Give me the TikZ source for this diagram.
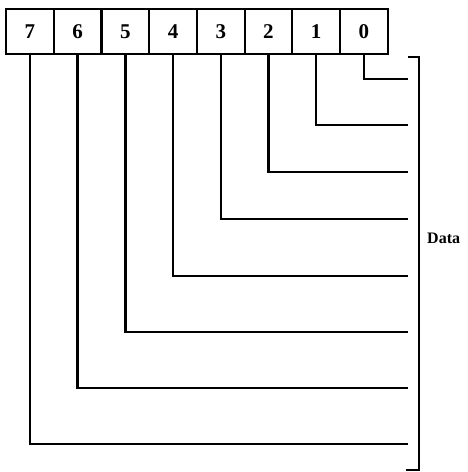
\documentclass[tikz,border=0pt]{standalone}
\usepackage{fontspec}
\setmainfont{Liberation Serif}
\begin{document}
\begin{tikzpicture}[x=1pt,y=-1pt,
  bitbox/.style={draw,line width=2.2pt,minimum width=47.7pt,minimum height=45pt,inner sep=0pt,font=\fontsize{21}{21}\selectfont\bfseries,anchor=north west},
  wire/.style={line width=2.4pt}]
\useasboundingbox (0,0) rectangle (467,472);
\foreach \i/\x in {7/5,6/52.7,5/100.4,4/148.1,3/195.8,2/243.5,1/291.2,0/338.9}{
  \node[bitbox] (b\i) at (\x,8) {\i};
}
\foreach \i/\y in {0/79,1/125,2/172,3/219,4/276,5/332,6/388,7/444}{
  \coordinate (e\i) at (408,\y);
  \draw[wire] (b\i.south) |- (e\i);
}
\coordinate (bt) at (408,57);
\coordinate (bb) at (406,470);
\draw[line width=1.8pt] (bt) -- ++(11,0) |- (bb);
\node[font=\fontsize{16}{16}\selectfont\bfseries,anchor=west,inner sep=0pt] (data) at (427,238) {Data};
\end{tikzpicture}
\end{document}
